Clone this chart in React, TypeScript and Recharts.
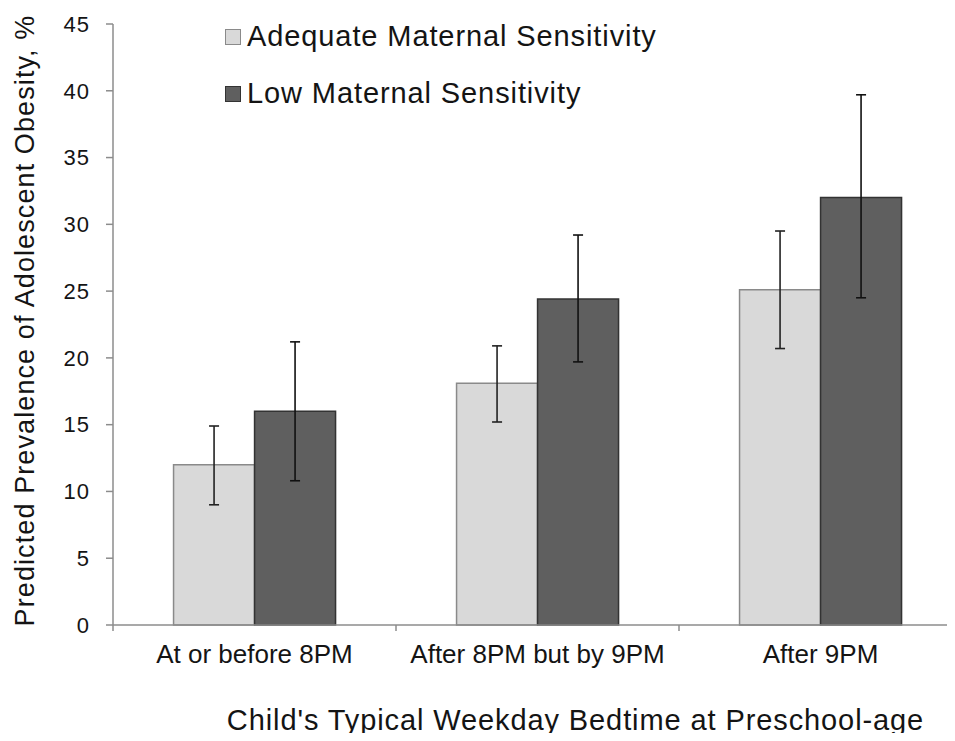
import {
  ComposedChart,
  Bar,
  ErrorBar,
  XAxis,
  YAxis,
  Label,
  Legend,
} from 'recharts';

const categories = ['At or before 8PM', 'After 8PM but by 9PM', 'After 9PM'];
const seriesNames = ['Adequate Maternal Sensitivity', 'Low Maternal Sensitivity'];

// predicted prevalence, % (with lower / upper CI)
const adequate = [12, 18.1, 25.1];
const adequateLower = [9, 15.2, 20.7];
const adequateUpper = [14.9, 20.9, 29.5];

const low = [16, 24.4, 32];
const lowLower = [10.8, 19.7, 24.5];
const lowUpper = [21.2, 29.2, 39.7];

const yTicks = [0, 5, 10, 15, 20, 25, 30, 35, 40, 45];

const data = categories.map((category, i) => ({
  category,
  adequate: adequate[i],
  adequateErr: [adequate[i] - adequateLower[i], adequateUpper[i] - adequate[i]],
  low: low[i],
  lowErr: [low[i] - lowLower[i], lowUpper[i] - low[i]],
}));

const FONT = '"Liberation Sans", Arial, sans-serif';
const AXIS = '#8c8c8c';
const TEXT = '#141414';
const swatches = [
  { fill: '#d9d9d9', stroke: '#8a8a8a' },
  { fill: '#5f5f5f', stroke: '#333333' },
];

function LegendBox() {
  return (
    <div style={{ fontFamily: FONT, color: TEXT }}>
      {seriesNames.map((name, i) => (
        <div key={name} style={{ display: 'flex', alignItems: 'center', height: 57 }}>
          <span
            style={{
              display: 'inline-block',
              width: 14,
              height: 14,
              background: swatches[i].fill,
              border: `1.5px solid ${swatches[i].stroke}`,
              marginRight: 6,
            }}
          />
          <span style={{ fontSize: 29, letterSpacing: 0.9, lineHeight: 1 }}>{name}</span>
        </div>
      ))}
    </div>
  );
}

// category label plus small tick marks on the category boundaries (Excel style)
function CategoryTick({ x, y, payload, index }: any) {
  const half = payload.offset || 0;
  const y0 = y - 20;
  return (
    <g>
      <line x1={x - half} y1={y0} x2={x - half} y2={y0 + 6} stroke={AXIS} strokeWidth={1.5} />
      {index === categories.length - 1 && (
        <line x1={x + half} y1={y0} x2={x + half} y2={y0 + 6} stroke={AXIS} strokeWidth={1.5} />
      )}
      <text x={x} y={y} dy={18} textAnchor="middle" fontFamily={FONT} fontSize={26} fill={TEXT}>
        {payload.value}
      </text>
    </g>
  );
}

function YTitle({ viewBox }: any) {
  const cy = viewBox.y + viewBox.height / 2 - 4;
  return (
    <text
      transform={`translate(25,${cy}) rotate(-90)`}
      textAnchor="middle"
      dominantBaseline="central"
      fontFamily={FONT}
      fontSize={27}
      letterSpacing={1.1}
      fill={TEXT}
    >
      Predicted Prevalence of Adolescent Obesity, %
    </text>
  );
}

export default function App() {
  return (
    <div style={{ margin: -8, width: 955, height: 741, overflow: 'hidden', background: '#fff' }}>
      <ComposedChart
        width={975}
        height={741}
        data={data}
        margin={{ top: 24, right: 13, left: 0, bottom: 0 }}
        barGap={0}
        barCategoryGap="21.4%"
        style={{ fontFamily: FONT }}
      >
        <XAxis
          dataKey="category"
          height={116}
          axisLine={{ stroke: AXIS, strokeWidth: 1.5 }}
          tickLine={false}
          tickSize={0}
          tickMargin={20}
          interval={0}
          tick={CategoryTick}
        >
          <Label
            value="Child's Typical Weekday Bedtime at Preschool-age"
            position="insideBottom"
            offset={11}
            dx={38}
            fontSize={29}
            letterSpacing={0.9}
            fill={TEXT}
            fontFamily={FONT}
          />
        </XAxis>
        <YAxis
          width={113}
          domain={[0, 45]}
          ticks={yTicks}
          interval={0}
          axisLine={{ stroke: AXIS, strokeWidth: 1.5 }}
          tickLine={{ stroke: AXIS, strokeWidth: 1.5 }}
          tickSize={7}
          tickMargin={16}
          tick={{ fontSize: 22, fill: TEXT, fontFamily: FONT, letterSpacing: 1 }}
        >
          <Label content={YTitle} />
        </YAxis>
        <Legend
          layout="vertical"
          align="center"
          verticalAlign="middle"
          content={LegendBox}
          wrapperStyle={{ top: 8, left: 225, width: 'auto' }}
        />
        <Bar
          dataKey="adequate"
          name={seriesNames[0]}
          fill={swatches[0].fill}
          stroke={swatches[0].stroke}
          strokeWidth={1.5}
          isAnimationActive={false}
        >
          <ErrorBar dataKey="adequateErr" direction="y" width={5} stroke="#222" strokeWidth={1.6} />
        </Bar>
        <Bar
          dataKey="low"
          name={seriesNames[1]}
          fill={swatches[1].fill}
          stroke={swatches[1].stroke}
          strokeWidth={1.5}
          isAnimationActive={false}
        >
          <ErrorBar dataKey="lowErr" direction="y" width={5} stroke="#111" strokeWidth={1.6} />
        </Bar>
      </ComposedChart>
    </div>
  );
}
